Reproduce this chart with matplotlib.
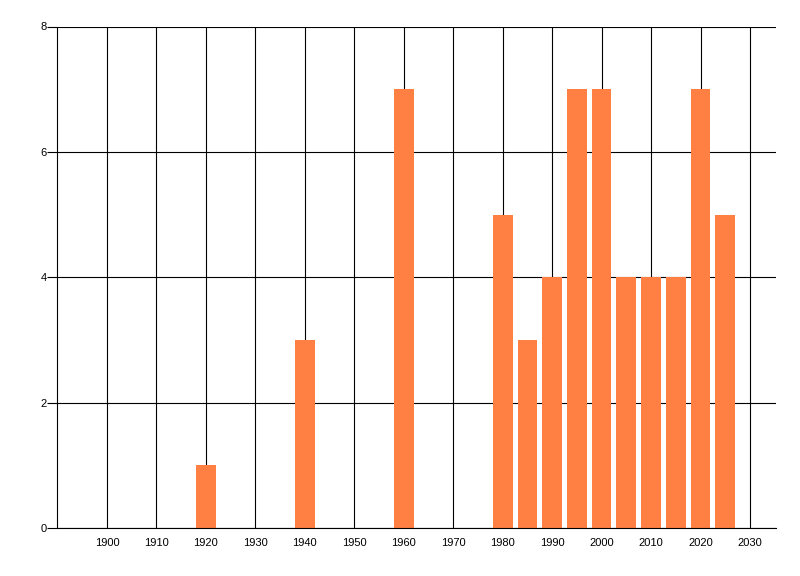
import matplotlib
matplotlib.use('Agg')
import matplotlib.pyplot as plt

# years and counts
years = [1920, 1940, 1960, 1980, 1985, 1990, 1995, 2000, 2005, 2010, 2015, 2020, 2025]
counts = [1, 3, 7, 5, 3, 4, 7, 7, 4, 4, 4, 7, 5]
x_ticks = list(range(1900, 2031, 10))
y_ticks = [0, 2, 4, 6, 8]

plt.rcParams['font.family'] = ['Liberation Sans', 'DejaVu Sans']

fig = plt.figure(figsize=(8, 5.76), dpi=100)
ax = fig.add_axes([57.5 / 800, 1 - 528 / 576, (775.7 - 57.5) / 800, (528 - 26.5) / 576])

ax.bar(years, counts, width=4.0, color='#FF8042', zorder=2)

ax.set_xlim(1890, 2035.2)
ax.set_ylim(0, 8)
ax.set_xticks(x_ticks)
ax.set_xticklabels([str(y) for y in x_ticks])
ax.set_yticks(y_ticks)

ax.set_axisbelow(True)
ax.grid(True, color='black', linewidth=0.8)

for side in ['top', 'right']:
    ax.spines[side].set_visible(False)
ax.spines['left'].set_linewidth(0.8)
ax.spines['bottom'].set_linewidth(0.8)

ax.tick_params(axis='x', length=0, pad=7.5, labelsize=8)
ax.tick_params(axis='y', length=7, width=0.8, pad=1, labelsize=8)

fig.savefig('out.png', dpi=100)
